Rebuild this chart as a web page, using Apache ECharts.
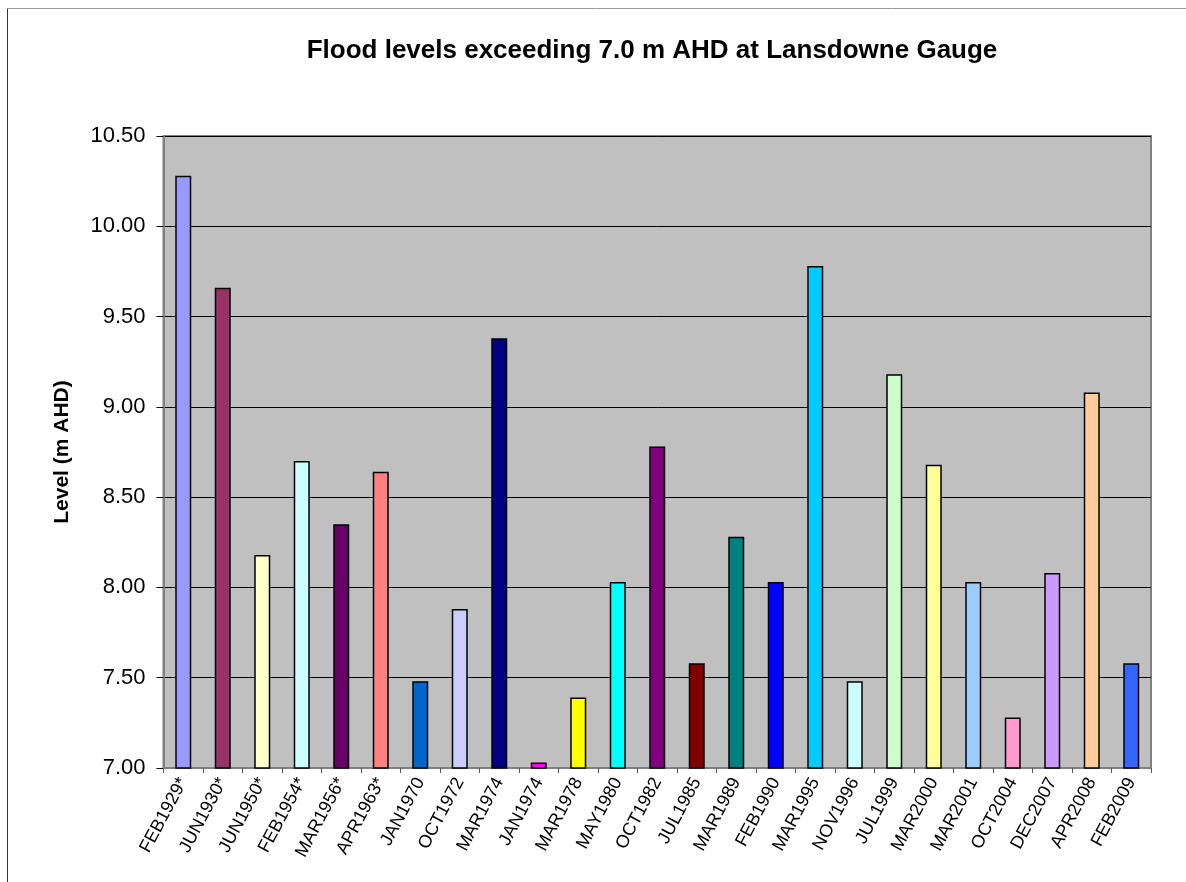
<!DOCTYPE html>
<html>
<head>
<meta charset="utf-8">
<script src="https://cdn.jsdelivr.net/npm/echarts@6/dist/echarts.min.js"></script>
<style>
  html, body { margin: 0; padding: 0; background: #fff; }
  #chart { width: 1186px; height: 882px; }
</style>
</head>
<body>
<div id="chart"></div>
<script>
// Flood events above 7.0 m AHD
const floodEvents = [
  'FEB1929*', 'JUN1930*', 'JUN1950*', 'FEB1954*', 'MAR1956*', 'APR1963*',
  'JAN1970', 'OCT1972', 'MAR1974', 'JAN1974', 'MAR1978', 'MAY1980',
  'OCT1982', 'JUL1985', 'MAR1989', 'FEB1990', 'MAR1995', 'NOV1996',
  'JUL1999', 'MAR2000', 'MAR2001', 'OCT2004', 'DEC2007', 'APR2008', 'FEB2009'
];

// Peak level at the gauge (m AHD)
const peakLevels = [
  10.28, 9.66, 8.18, 8.70, 8.35, 8.64,
  7.48, 7.88, 9.38, 7.03, 7.39, 8.03,
  8.78, 7.58, 8.28, 8.03, 9.78, 7.48,
  9.18, 8.68, 8.03, 7.28, 8.08, 9.08, 7.58
];

// One fill per event
const barColours = [
  '#9999FF', '#993366', '#FFFFCC', '#CCFFFF', '#660066', '#FF8080',
  '#0066CC', '#CCCCFF', '#000080', '#FF00FF', '#FFFF00', '#00FFFF',
  '#800080', '#800000', '#008080', '#0000FF', '#00CCFF', '#CCFFFF',
  '#CCFFCC', '#FFFF99', '#99CCFF', '#FF99CC', '#CC99FF', '#FFCC99', '#3366FF'
];

const levelMin = 7.0;
const levelMax = 10.5;
const levelStep = 0.5;

const font = 'Arial, "Liberation Sans", sans-serif';

const chart = echarts.init(document.getElementById('chart'), null, { renderer: 'canvas' });

chart.setOption({
  backgroundColor: '#ffffff',
  animation: false,
  title: {
    text: 'Flood levels exceeding 7.0 m AHD at Lansdowne Gauge',
    left: 647,
    top: 33,
    textAlign: 'center',
    textStyle: { fontFamily: font, fontSize: 26, fontWeight: 'bold', color: '#000' }
  },
  graphic: [
    { type: 'line', shape: { x1: 7.5, y1: 8, x2: 7.5, y2: 882 }, style: { stroke: '#333', lineWidth: 1 }, silent: true },
    { type: 'line', shape: { x1: 7, y1: 8.5, x2: 1186, y2: 8.5 }, style: { stroke: '#999', lineWidth: 1 }, silent: true }
  ],
  grid: {
    left: 163.5,
    right: 35,
    top: 136,
    bottom: 114,
    show: true,
    backgroundColor: '#C0C0C0',
    borderColor: '#808080',
    borderWidth: 2
  },
  xAxis: {
    type: 'category',
    data: floodEvents,
    boundaryGap: true,
    axisLine: { show: true, lineStyle: { color: '#808080', width: 2 } },
    axisTick: { show: true, alignWithLabel: false, length: 5, lineStyle: { color: '#555', width: 1 } },
    axisLabel: {
      interval: 0,
      rotate: 62,
      margin: 11,
      fontFamily: font,
      fontSize: 18,
      color: '#000'
    },
    splitLine: { show: false }
  },
  yAxis: {
    type: 'value',
    min: levelMin,
    max: levelMax,
    interval: levelStep,
    name: 'Level (m AHD)',
    nameLocation: 'middle',
    nameRotate: 90,
    nameGap: 91,
    nameTextStyle: { fontFamily: font, fontSize: 21, fontWeight: 'bold', color: '#000' },
    axisLine: { show: true, lineStyle: { color: '#808080', width: 2 } },
    axisTick: { show: true, length: 7, lineStyle: { color: '#000', width: 1 } },
    axisLabel: {
      margin: 18,
      fontFamily: font,
      fontSize: 22,
      color: '#000',
      formatter: v => v.toFixed(2)
    },
    splitLine: { show: true, lineStyle: { color: '#000', width: 1 } }
  },
  series: [{
    type: 'bar',
    data: peakLevels.map((v, i) => ({
      value: v,
      itemStyle: { color: barColours[i] }
    })),
    barWidth: 16,
    itemStyle: { borderColor: '#000', borderWidth: 1.5 },
    clip: true
  }]
});
</script>
</body>
</html>
